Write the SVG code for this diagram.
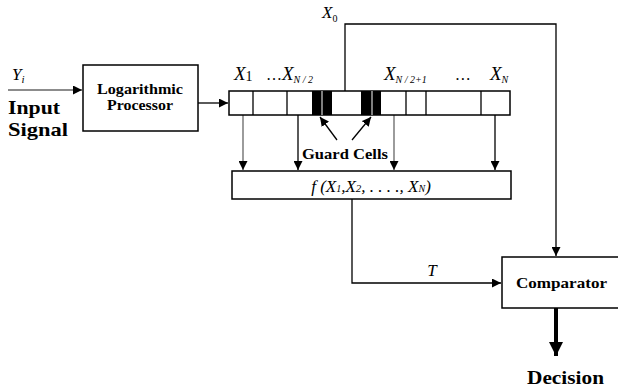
<svg xmlns="http://www.w3.org/2000/svg" width="618" height="388" viewBox="0 0 618 388">
<style>
.box{fill:#fff;stroke:#000;stroke-width:1.5}
.ln{fill:none;stroke:#000;stroke-width:1.3}
.gl{fill:none;stroke:#666;stroke-width:1.3}
.b{font-family:"Liberation Serif",serif;font-weight:bold;fill:#000}
.i{font-family:"Liberation Serif",serif;font-style:italic;fill:#000}
</style>
<defs>
<marker id="ah" viewBox="0 0 10 10" refX="10" refY="5" markerWidth="9" markerHeight="9" markerUnits="userSpaceOnUse" orient="auto"><path d="M0,0L10,5L0,10z" fill="#000"/></marker>
<marker id="ahb" viewBox="0 0 10 10" refX="10" refY="5" markerWidth="14" markerHeight="14" markerUnits="userSpaceOnUse" orient="auto"><path d="M0,0L10,5L0,10z" fill="#000"/></marker>
</defs>
<rect width="618" height="388" fill="#fff"/>
<g id="connectors">
<line x1="8" y1="90" x2="82" y2="90" class="gl" marker-end="url(#ah)"/>
<line x1="198" y1="103" x2="228" y2="103" class="ln" marker-end="url(#ah)"/>
<polyline points="345,91 345,24 556,24 556,256" class="ln" marker-end="url(#ah)"/>
<line x1="243" y1="115" x2="243" y2="170" class="gl" marker-end="url(#ah)"/>
<line x1="298" y1="115" x2="298" y2="170" class="ln" marker-end="url(#ah)"/>
<line x1="394" y1="115" x2="394" y2="170" class="gl" marker-end="url(#ah)"/>
<line x1="495" y1="115" x2="495" y2="170" class="ln" marker-end="url(#ah)"/>
<polyline points="352,199 352,283 501,283" class="ln" marker-end="url(#ah)"/>
<line x1="337" y1="140" x2="320" y2="117" class="ln" marker-end="url(#ah)"/>
<line x1="352" y1="140" x2="371" y2="117" class="ln" marker-end="url(#ah)"/>
<line x1="556" y1="308" x2="556" y2="356" stroke="#000" stroke-width="4" marker-end="url(#ahb)"/>
</g>
<g id="input">
<text x="12" y="80" class="i" font-size="17">Y<tspan font-size="11" dy="3">i</tspan></text>
<text x="8" y="114" class="b" font-size="19" textLength="52" lengthAdjust="spacingAndGlyphs">Input</text>
<text x="8" y="136" class="b" font-size="19" textLength="60" lengthAdjust="spacingAndGlyphs">Signal</text>
</g>
<g id="log-processor">
<rect x="83" y="65" width="115" height="66" class="box"/>
<text x="97" y="94" class="b" font-size="14" textLength="86" lengthAdjust="spacingAndGlyphs">Logarithmic</text>
<text x="107" y="110" class="b" font-size="14" textLength="66" lengthAdjust="spacingAndGlyphs">Processor</text>
</g>
<g id="register">
<rect x="229" y="91" width="281" height="24" class="box"/>
<rect x="312" y="91" width="20" height="24" fill="#000"/>
<rect x="361" y="91" width="20" height="24" fill="#000"/>
<line x1="322" y1="91" x2="322" y2="115" stroke="#fff" stroke-width="1"/>
<line x1="372" y1="91" x2="372" y2="115" stroke="#fff" stroke-width="1"/>
<g class="ln">
<line x1="253" y1="91" x2="253" y2="115"/>
<line x1="287" y1="91" x2="287" y2="115"/>
<line x1="406" y1="91" x2="406" y2="115"/>
<line x1="426" y1="91" x2="426" y2="115"/>
<line x1="481" y1="91" x2="481" y2="115"/>
</g>
<text x="234" y="80" class="i" font-size="19">X<tspan font-size="14" dy="1" font-style="normal">1</tspan></text>
<text x="266" y="80" class="i" font-size="19"><tspan font-style="normal" font-size="16">…</tspan>X<tspan font-size="10" dy="3">N / 2</tspan></text>
<text x="384" y="80" class="i" font-size="19">X<tspan font-size="10" dy="3">N / 2+1</tspan></text>
<text x="456" y="80" class="i" font-size="16" font-style="normal">…</text>
<text x="490" y="80" class="i" font-size="19">X<tspan font-size="10" dy="3">N</tspan></text>
<text x="322" y="18" class="i" font-size="17">X<tspan font-size="10" dy="4" font-style="normal">0</tspan></text>
<text x="302" y="159" class="b" font-size="15" textLength="86" lengthAdjust="spacingAndGlyphs">Guard Cells</text>
</g>
<g id="function">
<rect x="232" y="171" width="279" height="28" class="box"/>
<text x="371" y="192" class="i" font-size="17" text-anchor="middle">f (X<tspan font-size="10">1</tspan>,X<tspan font-size="11">2</tspan>, . . . ., X<tspan font-size="10">N</tspan>)</text>
</g>
<text x="432" y="276" class="i" font-size="17" text-anchor="middle">T</text>
<g id="comparator">
<rect x="502" y="257" width="125" height="51" class="box"/>
<text x="516" y="288" class="b" font-size="15" textLength="91" lengthAdjust="spacingAndGlyphs">Comparator</text>
</g>
<g id="decision">
<text x="527" y="384" class="b" font-size="19" textLength="77" lengthAdjust="spacingAndGlyphs">Decision</text>
</g>
</svg>
